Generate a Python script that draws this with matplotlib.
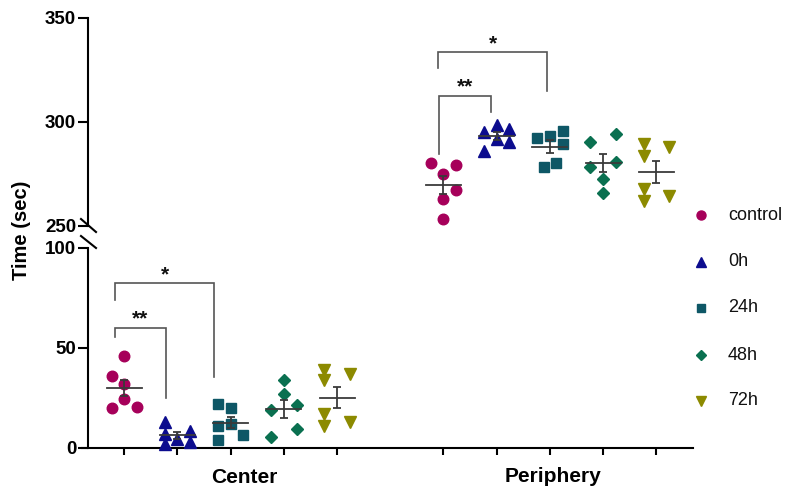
import numpy as np
import matplotlib
matplotlib.use("Agg")
import matplotlib.pyplot as plt
from matplotlib.lines import Line2D

plt.rcParams['font.family'] = ['Liberation Sans', 'DejaVu Sans']

# ---------------- data ----------------
groups = ["control", "0h", "24h", "48h", "72h"]
regions = ["Center", "Periphery"]

center_control = [46, 36, 32, 24.5, 20, 20.5]
center_0h = [12.7, 6.9, 1.8, 4.4, 8.5, 2.7]
center_24h = [21.6, 19.8, 11, 11.9, 4, 6.5]
center_48h = [33.7, 27, 21.4, 18.6, 9.4, 5.2]
center_72h = [38.7, 37, 33.7, 16.9, 11, 12.7]

periph_control = [279.9, 279.3, 275, 267, 263, 253]
periph_0h = [298.4, 295.2, 296.5, 291.6, 290, 286]
periph_24h = [295.7, 292, 293.2, 289.2, 278, 279.9]
periph_48h = [294, 290, 278.3, 280.8, 272.3, 265.9]
periph_72h = [289.5, 287.9, 283.6, 267.5, 261.8, 264.3]

center_values = [center_control, center_0h, center_24h, center_48h, center_72h]
periph_values = [periph_control, periph_0h, periph_24h, periph_48h, periph_72h]

lower_ticks = [0, 50, 100]
upper_ticks = [250, 300, 350]

# ---------------- layout / style ----------------
center_lanes = [[0, -1, 0, 0, -1, 1],
                [-1, -1, -1, 0, 1, 1],
                [-1, 0, -1, 0, -1, 1],
                [0, 0, 1, -1, 1, -1],
                [-1, 1, -1, -1, -1, 1]]
periph_lanes = [[-1, 1, 0, 1, 0, 0],
                [0, -1, 1, 0, 1, -1],
                [1, -1, 0, 1, -0.5, 0.5],
                [1, -1, -1, 1, 0, 0],
                [-1, 1, -1, -1, -1, 1]]
lane_w = 0.24

colors = ["#A6005A", "#0C0C8E", "#0E5766", "#0A7050", "#8C8A00"]
markers = ["o", "^", "s", "D", "v"]
msizes = [7.6, 8.0, 7.4, 6.2, 8.0]
err_color = "#3a3a3a"

W, H = 790, 494
fig = plt.figure(figsize=(W / 100, H / 100), dpi=100)

def fx(px):
    return px / W

def fy(py):
    return 1 - py / H

xl = (-0.795, 10.69)
spine_x = -0.677
left, right = 82, 693
ax_lo = fig.add_axes([fx(left), fy(447.5), fx(right - left), (447.5 - 248) / H])
ax_hi = fig.add_axes([fx(left), fy(225.5), fx(right - left), (225.5 - 18) / H])

for ax in (ax_lo, ax_hi):
    ax.set_xlim(*xl)
    ax.patch.set_alpha(0)
    for s in ("top", "right"):
        ax.spines[s].set_visible(False)
    ax.spines["left"].set_position(("data", spine_x))
    ax.spines["left"].set_linewidth(1.5)
    ax.tick_params(axis="y", direction="out", length=7.2, width=1.5,
                   labelsize=13.5, pad=1.5)
    for lab in ax.get_yticklabels():
        lab.set_fontweight("bold")

ax_lo.set_ylim(0, 100)
ax_lo.set_yticks(lower_ticks)
ax_lo.spines["bottom"].set_linewidth(1.5)
ax_lo.set_xticks([0, 1, 2, 3, 4, 6, 7, 8, 9, 10])
ax_lo.tick_params(axis="x", direction="out", length=5, width=1.5, labelbottom=False)

ax_hi.set_ylim(250, 350)
ax_hi.set_yticks(upper_ticks)
ax_hi.spines["bottom"].set_visible(False)
ax_hi.set_xticks([])

for ax in (ax_lo, ax_hi):
    ax.set_yticklabels([str(t) for t in ax.get_yticks()], fontweight="bold", fontsize=13.5)


def draw_group(ax, base, vals_list, lanes_list):
    for i, (vals, lanes) in enumerate(zip(vals_list, lanes_list)):
        xc = base + i
        v = np.array(vals, dtype=float)
        xs = xc + lane_w * np.array(lanes, dtype=float)
        ax.plot(xs, v, linestyle="none", marker=markers[i], ms=msizes[i],
                color=colors[i], mec=colors[i], zorder=3, clip_on=False)
        m = v.mean()
        sem = v.std(ddof=1) / np.sqrt(len(v))
        ax.plot([xc - 0.33, xc + 0.33], [m, m], color=err_color, lw=1.3, zorder=4)
        ax.errorbar([xc], [m], yerr=[sem], color=err_color, lw=1.3,
                    capsize=2.6, capthick=1.3, zorder=4, fmt="none")


draw_group(ax_lo, 0, center_values, center_lanes)
draw_group(ax_hi, 6, periph_values, periph_lanes)

# significance brackets: (x1, x2, ytop, yleft, yright, label, ystar)
br_col = "#555555"
center_br = [(-0.175, 0.78, 60, 55.4, 24.6, "**", 64.5),
             (-0.175, 1.69, 82.5, 74, 35.3, "*", 86.5)]
periph_br = [(5.92, 6.90, 312.6, 284.4, 304.5, "**", 317),
             (5.90, 7.95, 333.7, 326, 314.6, "*", 337.7)]
for ax, brs in ((ax_lo, center_br), (ax_hi, periph_br)):
    for x1, x2, yt, yl, yr, lab, ys in brs:
        ax.plot([x1, x1, x2, x2], [yl, yt, yt, yr], color=br_col, lw=1.2,
                zorder=2, solid_joinstyle="miter")
        ax.text((x1 + x2) / 2, ys, lab, ha="center", va="center",
                fontsize=15, fontweight="bold", color="#111111")

# axis break marks
fig.add_artist(Line2D([fx(81), fx(96)], [fy(219), fy(232)], color="black", lw=1.5))
fig.add_artist(Line2D([fx(81), fx(96)], [fy(236), fy(248)], color="black", lw=1.5))

# labels
fig.text(fx(22), fy(230), "Time (sec)", rotation=90, ha="center", va="center",
         fontsize=14.5, fontweight="bold")
fig.text(fx(244), fy(477.5), regions[0], ha="center", va="center",
         fontsize=15, fontweight="bold")
fig.text(fx(552.5), fy(476.5), regions[1], ha="center", va="center",
         fontsize=15, fontweight="bold")

# legend
leg_y = [215, 261.7, 308, 355, 400.7]
leg_ms = [6.5, 6.5, 6.0, 5.0, 6.5]
for i, g in enumerate(groups):
    fig.add_artist(Line2D([fx(700.7)], [fy(leg_y[i])], marker=markers[i],
                          ms=leg_ms[i], color=colors[i], linestyle="none"))
    fig.text(fx(728), fy(leg_y[i]), g, ha="left", va="center", fontsize=13,
             color="#111111")

fig.savefig("out.png", dpi=100)
